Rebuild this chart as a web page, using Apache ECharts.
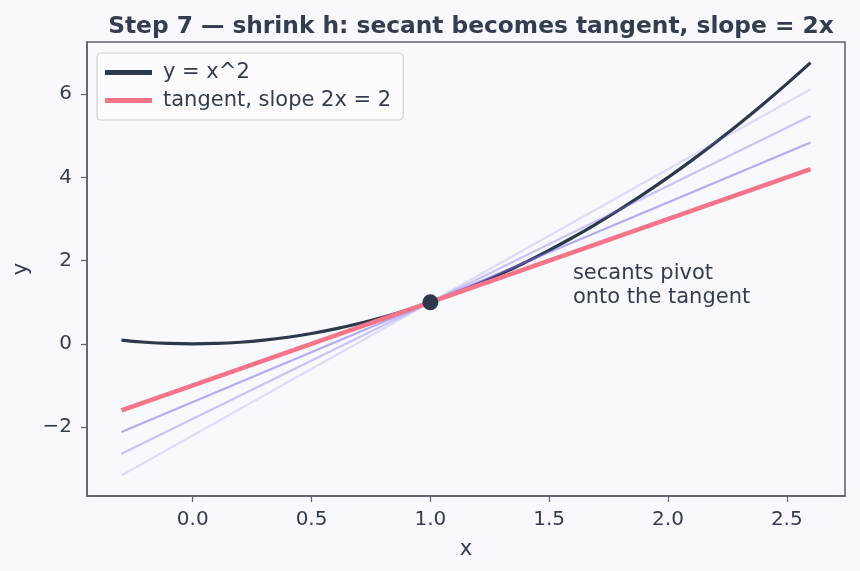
<!DOCTYPE html>
<html>
<head>
<meta charset="utf-8">
<script src="https://cdn.jsdelivr.net/npm/echarts@6/dist/echarts.min.js"></script>
<style>
  html, body { margin: 0; padding: 0; background: #f8f9fc; }
  #chart { width: 860px; height: 571px; }
</style>
</head>
<body>
<div id="chart"></div>
<script>
// curve y = x^2, sampled values
const curveX = [-0.3, -0.2, -0.1, 0.0, 0.1, 0.2, 0.3, 0.4, 0.5, 0.6, 0.7, 0.8, 0.9, 1.0,
  1.1, 1.2, 1.3, 1.4, 1.5, 1.6, 1.7, 1.8, 1.9, 2.0, 2.1, 2.2, 2.3, 2.4, 2.5, 2.6]
const curveY = [0.09, 0.04, 0.01, 0.0, 0.01, 0.04, 0.09, 0.16, 0.25, 0.36, 0.49, 0.64, 0.81, 1.0,
  1.21, 1.44, 1.69, 1.96, 2.25, 2.56, 2.89, 3.24, 3.61, 4.0, 4.41, 4.84, 5.29, 5.76, 6.25, 6.76]

// straight lines: endpoints at x = -0.3 and x = 2.6
const lineX = [-0.3, 2.6]
const tangentY = [-1.6, 4.2]
const secantWide = [-3.16, 6.12]   // h = 1.2
const secantMid = [-2.64, 5.48]    // h = 0.8
const secantNear = [-2.12, 4.84]   // h = 0.4

const point = [1.0, 1.0]
const notePos = [1.6, 1.0]

const xTicks = [0, 0.5, 1.0, 1.5, 2.0, 2.5]
const yTicks = [-2, 0, 2, 4, 6]

const textColor = '#343d4f'
const axisColor = '#5a5f6e'
const font = 'DejaVu Sans'

const pairs = (xs, ys) => xs.map((x, i) => [x, ys[i]])

const chart = echarts.init(document.getElementById('chart'))

const secantLine = (data, alpha) => ({
  type: 'line',
  data: pairs(lineX, data),
  showSymbol: false,
  silent: true,
  lineStyle: { color: 'rgba(124, 108, 240, ' + alpha + ')', width: 2.2 },
  z: 3
})

const axisBase = {
  type: 'value',
  nameLocation: 'middle',
  nameTextStyle: { fontFamily: font, fontSize: 21, color: textColor },
  axisLine: { show: true, onZero: false, lineStyle: { color: axisColor, width: 1.5 } },
  splitLine: { show: false }
}

chart.setOption({
  backgroundColor: '#f8f9fc',
  animation: false,
  textStyle: { fontFamily: font },
  title: {
    text: 'Step 7 — shrink h: secant becomes tangent, slope = 2x',
    left: 466,
    textAlign: 'center',
    top: 10,
    textStyle: { fontFamily: font, fontSize: 23.3, fontWeight: 'bold', color: textColor }
  },
  grid: {
    left: 87, right: 15, top: 42, bottom: 75,
    show: true,
    borderColor: axisColor,
    borderWidth: 1.5,
    backgroundColor: '#f8f9fc'
  },
  legend: {
    left: 97,
    top: 53,
    orient: 'vertical',
    itemGap: 7,
    itemWidth: 47,
    itemHeight: 5,
    padding: [9, 12, 9, 8],
    backgroundColor: 'rgba(252, 252, 254, 0.9)',
    borderColor: '#d0d0d4',
    borderWidth: 1.2,
    borderRadius: 4,
    icon: 'rect',
    textStyle: { fontFamily: font, fontSize: 21, color: textColor, padding: [0, 0, 0, 6] },
    data: ['y = x^2', 'tangent, slope 2x = 2']
  },
  xAxis: Object.assign({}, axisBase, {
    min: -0.445,
    max: 2.745,
    name: 'x',
    nameGap: 43,
    axisTick: { show: true, customValues: xTicks, length: 6, lineStyle: { color: axisColor, width: 1.2 } },
    axisLabel: {
      customValues: xTicks,
      margin: 14,
      fontFamily: font, fontSize: 20, color: textColor,
      formatter: v => v.toFixed(1)
    }
  }),
  yAxis: Object.assign({}, axisBase, {
    min: -3.656,
    max: 7.256,
    name: 'y',
    nameGap: 51,
    axisTick: { show: true, customValues: yTicks, length: 6, lineStyle: { color: axisColor, width: 1.2 } },
    axisLabel: {
      customValues: yTicks,
      margin: 15,
      fontFamily: font, fontSize: 20, color: textColor,
      formatter: v => String(v).replace('-', '\u2212')
    }
  }),
  series: [
    {
      name: 'y = x^2',
      type: 'line',
      data: pairs(curveX, curveY),
      smooth: true,
      showSymbol: false,
      lineStyle: { color: '#2d384b', width: 3.2 },
      itemStyle: { color: '#2d384b' },
      z: 2
    },
    secantLine(secantWide, 0.22),
    secantLine(secantMid, 0.38),
    secantLine(secantNear, 0.55),
    {
      name: 'tangent, slope 2x = 2',
      type: 'line',
      data: pairs(lineX, tangentY),
      showSymbol: false,
      lineStyle: { color: '#f67388', width: 4.5 },
      itemStyle: { color: '#f67388' },
      z: 4
    },
    {
      type: 'scatter',
      data: [point],
      symbolSize: 16,
      itemStyle: { color: '#2d384b', opacity: 1 },
      z: 5
    },
    {
      type: 'scatter',
      data: [notePos],
      symbolSize: 0,
      silent: true,
      itemStyle: { opacity: 1 },
      label: {
        show: true,
        position: [0, 7],
        align: 'left',
        verticalAlign: 'bottom',
        formatter: 'secants pivot\nonto the tangent',
        fontFamily: font,
        fontSize: 21,
        lineHeight: 24,
        color: textColor
      },
      z: 6
    }
  ]
})
</script>
</body>
</html>
